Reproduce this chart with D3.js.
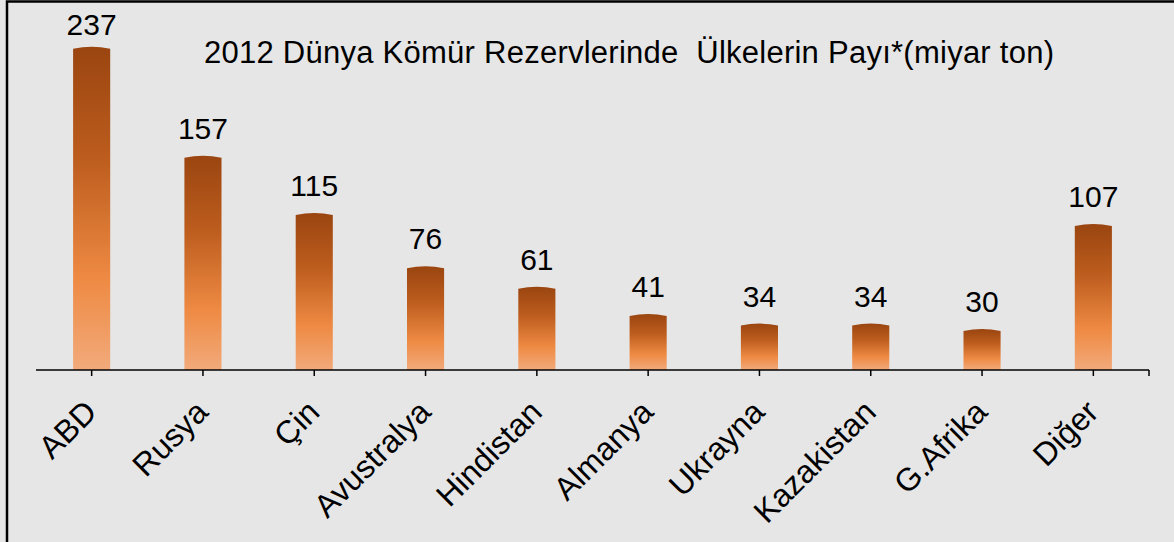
<!DOCTYPE html>
<html>
<head>
<meta charset="utf-8">
<script src="https://cdn.jsdelivr.net/npm/d3@7"></script>
<style>
  html, body { margin: 0; padding: 0; background: #e6e6e6; }
  svg { display: block; font-family: Arial, "Liberation Sans", sans-serif; }
</style>
</head>
<body>
<div id="chart"></div>
<script>
// chart data
var countries = ['ABD', 'Rusya', 'Çin', 'Avustralya', 'Hindistan', 'Almanya', 'Ukrayna', 'Kazakistan', 'G.Afrika', 'Diğer']
var reserves = [237, 157, 115, 76, 61, 41, 34, 34, 30, 107]
var chartTitle = '2012 Dünya Kömür Rezervlerinde\u00a0 Ülkelerin Payı*(miyar ton)'

var width = 1174
var height = 542
var baseY = 370

var svg = d3.select('#chart')
    .append('svg')
    .attr('width', width)
    .attr('height', height)

// background and frame (only top/left edges show in the picture)
svg.append('rect')
    .attr('x', 0).attr('y', 0)
    .attr('width', width).attr('height', height)
    .attr('fill', '#e6e6e6')
svg.append('path')
    .attr('d', 'M7,' + height + 'V1.5H' + width)
    .attr('fill', 'none')
    .attr('stroke', '#000')
    .attr('stroke-width', 2.5)

// gradient for the bars
var defs = svg.append('defs')
var grad = defs.append('linearGradient')
    .attr('id', 'barGrad')
    .attr('x1', 0).attr('y1', 0).attr('x2', 0).attr('y2', 1)
var stops = [[0, '#9a4510'], [0.35, '#bd5d1e'], [0.72, '#ee8a43'], [1, '#f2aa7b']]
stops.forEach(function (s) {
    grad.append('stop').attr('offset', s[0]).attr('stop-color', s[1])
})

var x = d3.scaleBand()
    .domain(countries)
    .range([36, 1149])
    .paddingInner(2 / 3)
    .paddingOuter(1 / 3)

var y = d3.scaleLinear()
    .domain([0, 237])
    .range([baseY, 46.7])

// bars with a slightly rounded top
var bars = svg.selectAll('.bar')
    .data(countries)
    .enter()
    .append('path')
    .attr('class', 'bar')
    .attr('fill', 'url(#barGrad)')
    .attr('d', function (d, i) {
        var x0 = x(d), x1 = x(d) + x.bandwidth()
        var top = y(reserves[i])
        var mid = (x0 + x1) / 2
        return 'M' + x0 + ',' + baseY +
            'V' + (top + 2) +
            'Q' + mid + ',' + (top - 2) + ' ' + x1 + ',' + (top + 2) +
            'V' + baseY + 'Z'
    })

// value labels
svg.selectAll('.val')
    .data(countries)
    .enter()
    .append('text')
    .attr('class', 'val')
    .attr('x', function (d) { return x(d) + x.bandwidth() / 2 })
    .attr('y', function (d, i) { return Math.max(35, y(reserves[i]) - 17) })
    .attr('text-anchor', 'middle')
    .style('font-size', '30px')
    .attr('fill', '#000')
    .text(function (d, i) { return reserves[i] })

// axis line and ticks
var axis = svg.append('g')
axis.append('line')
    .attr('x1', 36).attr('x2', 1149)
    .attr('y1', baseY).attr('y2', baseY)
    .attr('stroke', '#000').attr('stroke-width', 1.5)
var tickXs = countries.map(function (d) { return x(d) + x.bandwidth() / 2 }).concat([1149])
axis.selectAll('.tick')
    .data(tickXs)
    .enter()
    .append('line')
    .attr('x1', function (d) { return d }).attr('x2', function (d) { return d })
    .attr('y1', baseY).attr('y2', baseY + 6)
    .attr('stroke', '#000').attr('stroke-width', 1.5)

// rotated category labels
svg.selectAll('.cat')
    .data(countries)
    .enter()
    .append('text')
    .attr('class', 'cat')
    .attr('text-anchor', 'end')
    .style('font-size', '32px')
    .attr('transform', function (d) {
        var cx = x(d) + x.bandwidth() / 2
        return 'translate(' + (cx + 7) + ',' + 414 + ') rotate(-45)'
    })
    .text(function (d) { return d })

// title
svg.append('text')
    .attr('x', 204)
    .attr('y', 63)
    .style('font-size', '31px')
    .attr('textLength', 850)
    .attr('lengthAdjust', 'spacing')
    .attr('fill', '#000')
    .text(chartTitle)
</script>
</body>
</html>
